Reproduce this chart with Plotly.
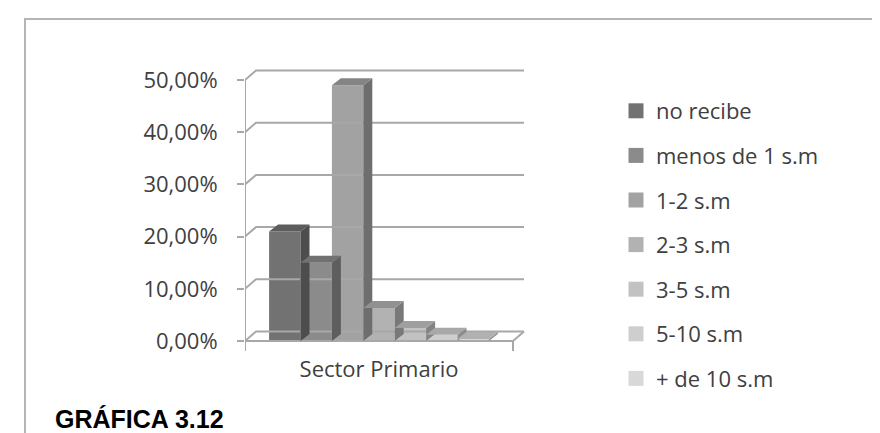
import plotly.graph_objects as go

# ---------------- data ----------------
categories = ["no recibe", "menos de 1 s.m", "1-2 s.m", "2-3 s.m",
              "3-5 s.m", "5-10 s.m", "+ de 10 s.m"]
values = [21.0, 15.0, 49.0, 6.3, 2.5, 1.2, 0.4]
sector_label = ["Sector Primario"]
y_tick_values = [0, 10, 20, 30, 40, 50]
y_tick_text = [("%.2f" % v).replace(".", ",") + "%" for v in y_tick_values]

# ---------------- styling / geometry ----------------
bar_colors = ["#727272", "#8b8b8b", "#a2a2a2", "#b2b2b2",
              "#c2c2c2", "#cecece", "#d8d8d8"]
FONT = "Open Sans"
FS = 22
TXT = "#404040"
GRID = "#a8a8a8"

W, H = 880, 433
L, R, T, B = 237, 363, 55, 88
PLOT_W = W - L - R
PLOT_H = H - T - B
PX_PER_PCT = 5.22
ZERO_PX = 333
y_lo = -((H - B) - ZERO_PX) / PX_PER_PCT
y_hi = (ZERO_PX - T) / PX_PER_PCT

CAT_W = 268                       # width of the category slot (x units = px)
BAR_W = 31.4
GAP = (CAT_W - BAR_W * len(values)) / 2
WALL_DX, WALL_DY = 11, 9.5 / PX_PER_PCT
BAR_DX, BAR_DY = 9, 7 / PX_PER_PCT
TICK_DOWN = 10 / PX_PER_PCT


def shade(hex_color, f):
    h = hex_color.lstrip("#")
    r, g, b = (int(h[i:i + 2], 16) for i in (0, 2, 4))
    return "rgb({},{},{})".format(int(r * f), int(g * f), int(b * f))


def paper_x(px):
    return (px - L) / PLOT_W


def paper_y(py):
    return ((H - B) - py) / PLOT_H


fig = go.Figure()

# back-wall gridlines with their oblique connectors to the front axis
gx, gy = [], []
for v in y_tick_values:
    gx += [0, WALL_DX, CAT_W + WALL_DX, None]
    gy += [v, v + WALL_DY, v + WALL_DY, None]
fig.add_trace(go.Scatter(x=gx, y=gy, mode="lines",
                         line=dict(color=GRID, width=2),
                         hoverinfo="skip", showlegend=False))

# floor front edge + right connector, front axis line and category ticks
fx = [0, CAT_W, CAT_W + WALL_DX, None, 0, 0, None, CAT_W, CAT_W]
fy = [0, 0, WALL_DY, None, max(y_tick_values), -TICK_DOWN, None, 0, -TICK_DOWN]
fig.add_trace(go.Scatter(x=fx, y=fy, mode="lines",
                         line=dict(color=GRID, width=2),
                         hoverinfo="skip", showlegend=False))

# side and top faces of the 3D columns (drawn left to right)
for i, (name, v, c) in enumerate(zip(categories, values, bar_colors)):
    left = GAP + i * BAR_W
    right = left + BAR_W
    fig.add_trace(go.Scatter(
        x=[right, right + BAR_DX, right + BAR_DX, right, right],
        y=[0, BAR_DY, v + BAR_DY, v, 0],
        mode="lines", fill="toself", fillcolor=shade(c, 0.68),
        line=dict(width=0, color=shade(c, 0.68)), legendgroup=name,
        hoverinfo="skip", showlegend=False))
    fig.add_trace(go.Scatter(
        x=[left, left + BAR_DX, right + BAR_DX, right, left],
        y=[v, v + BAR_DY, v + BAR_DY, v, v],
        mode="lines", fill="toself", fillcolor=shade(c, 0.82),
        line=dict(width=0, color=shade(c, 0.82)), legendgroup=name,
        hoverinfo="skip", showlegend=False))

# front faces (real bars)
for i, (name, v, c) in enumerate(zip(categories, values, bar_colors)):
    fig.add_trace(go.Bar(
        x=[GAP + (i + 0.5) * BAR_W], y=[v], width=BAR_W,
        name=name, legendgroup=name, showlegend=False,
        marker=dict(color=c, line=dict(width=0)),
        hovertemplate=name + ": %{y:.2f}%<extra></extra>"))

# legend entries (square keys like the original)
for name, c in zip(categories, bar_colors):
    fig.add_trace(go.Scatter(
        x=[None], y=[None], mode="markers", name=name, legendgroup=name,
        marker=dict(symbol="square", size=15, color=c), hoverinfo="skip"))

fig.update_layout(
    width=W, height=H,
    margin=dict(l=L, r=R, t=T, b=B, pad=0),
    paper_bgcolor="white", plot_bgcolor="white",
    barmode="overlay",
    font=dict(family=FONT, size=FS, color=TXT),
    showlegend=True,
    legend=dict(x=paper_x(608), y=paper_y(82), xanchor="left", yanchor="top",
                font=dict(family=FONT, size=FS, color=TXT),
                tracegroupgap=13, bgcolor="rgba(0,0,0,0)",
                traceorder="grouped", maxheight=420),
    xaxis=dict(range=[0, PLOT_W], showgrid=False, zeroline=False,
               showline=False, ticks="",
               tickvals=[CAT_W / 2], ticktext=sector_label,
               tickfont=dict(family=FONT, size=FS, color=TXT),
               ticklabelstandoff=1, fixedrange=True),
    yaxis=dict(range=[y_lo, y_hi], showgrid=False, zeroline=False,
               showline=False, ticks="outside", ticklen=7, tickwidth=2,
               tickcolor=GRID, tickvals=y_tick_values, ticktext=y_tick_text,
               tickfont=dict(family=FONT, size=FS, color=TXT),
               ticklabelstandoff=15, fixedrange=True),
    shapes=[dict(type="rect", xref="paper", yref="paper",
                 x0=paper_x(17), x1=paper_x(873),
                 y0=paper_y(431), y1=paper_y(11),
                 line=dict(color="#b5b5b5", width=2), layer="below")],
    annotations=[dict(text="<b>GRÁFICA 3.12</b>", xref="paper", yref="paper",
                      x=paper_x(45), y=paper_y(411), xanchor="left",
                      yanchor="middle", showarrow=False,
                      font=dict(family="Liberation Sans", size=25,
                                color="black"))],
)

fig.write_html("out.html")
